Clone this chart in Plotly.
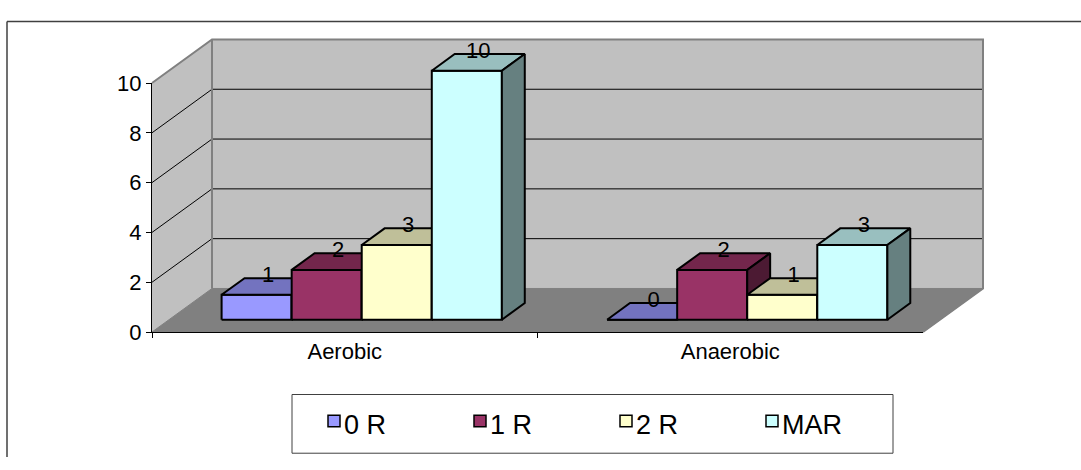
import plotly.graph_objects as go

# ---- data -------------------------------------------------------------
categories = ["Aerobic", "Anaerobic"]
series_names = ["0 R", "1 R", "2 R", "MAR"]
values_0r = [1, 0]
values_1r = [2, 2]
values_2r = [3, 1]
values_mar = [10, 3]
y_ticks = [0, 2, 4, 6, 8, 10]

series_values = [values_0r, values_1r, values_2r, values_mar]
front_colors = ["#9999FF", "#993366", "#FFFFCC", "#CCFFFF"]

# ---- figure geometry (pixels) ------------------------------------------
W, H = 1081, 470
AX_LEFT, AX_RIGHT = 152, 923      # front category axis, px
AX_ZERO, AX_TOP = 338, 75         # value 0 / value 10 on the front plane, px
Y_MAX = 10
PX_PER_CAT = (AX_RIGHT - AX_LEFT) / len(categories)
PX_PER_VAL = (AX_ZERO - AX_TOP) / Y_MAX

# oblique depth of the floor (full depth), px
DEPTH_PX_X, DEPTH_PX_Y = 60, 46
DEPTH_X = DEPTH_PX_X / PX_PER_CAT
DEPTH_Y = DEPTH_PX_Y / PX_PER_VAL

# bars sit between these depth fractions
Z_FRONT, Z_BACK = 0.283, 0.665
GROUP_WIDTH = 0.727               # fraction of a category slot
BAR_W = GROUP_WIDTH / len(series_names)

X_RANGE = [-0.5 - AX_LEFT / PX_PER_CAT, -0.5 + (W - AX_LEFT) / PX_PER_CAT]
Y_RANGE = [-(H - AX_ZERO) / PX_PER_VAL, AX_ZERO / PX_PER_VAL]

U_MIN, U_MAX = -0.5, len(categories) - 0.5

FONT = "Liberation Sans, Arial, sans-serif"


def proj(u, v, z):
    """Oblique projection of (category, value, depth) into the plot plane."""
    return u + z * DEPTH_X, v + z * DEPTH_Y


def shade(hex_color, f):
    h = hex_color.lstrip("#")
    r, g, b = (int(h[i:i + 2], 16) for i in (0, 2, 4))
    return "#{:02X}{:02X}{:02X}".format(round(r * f), round(g * f), round(b * f))


fig = go.Figure()


def polygon(pts, fill, line_color=None, line_width=1.0):
    xs, ys = zip(*[proj(*p) for p in pts])
    xs = list(xs) + [xs[0]]
    ys = list(ys) + [ys[0]]
    fig.add_trace(go.Scatter(
        x=xs, y=ys, mode="lines", fill="toself", fillcolor=fill,
        line=dict(color=line_color or fill, width=line_width),
        hoverinfo="skip", showlegend=False))


def polyline(pts, color, width):
    xs, ys = zip(*[proj(*p) for p in pts])
    fig.add_trace(go.Scatter(
        x=list(xs), y=list(ys), mode="lines",
        line=dict(color=color, width=width),
        hoverinfo="skip", showlegend=False))


WALL = "#C0C0C0"
FLOOR = "#808080"
EDGE = "#808080"

# walls and floor
polygon([(U_MIN, 0, 0), (U_MIN, Y_MAX, 0), (U_MIN, Y_MAX, 1), (U_MIN, 0, 1)], WALL)
polygon([(U_MIN, 0, 1), (U_MAX, 0, 1), (U_MAX, Y_MAX, 1), (U_MIN, Y_MAX, 1)], WALL)
polygon([(U_MIN, 0, 0), (U_MAX, 0, 0), (U_MAX, 0, 1), (U_MIN, 0, 1)], FLOOR)

# gridlines on side wall and back wall
for t in y_ticks[1:-1]:
    polyline([(U_MIN, t, 0), (U_MIN, t, 1), (U_MAX, t, 1)], "#000000", 1)

# wall outline
polyline([(U_MIN, Y_MAX, 0), (U_MIN, Y_MAX, 1), (U_MAX, Y_MAX, 1),
          (U_MAX, 0, 1), (U_MAX, 0, 0)], EDGE, 2)
polyline([(U_MIN, 0, 1), (U_MIN, Y_MAX, 1)], EDGE, 2)

# bars, painted left to right so right-hand faces overlap correctly
label_x, label_y, label_t = [], [], []
for ci in range(len(categories)):
    for si, vals in enumerate(series_values):
        v = vals[ci]
        u0 = ci - GROUP_WIDTH / 2 + si * BAR_W
        u1 = u0 + BAR_W
        col = front_colors[si]
        polygon([(u0, 0, Z_FRONT), (u1, 0, Z_FRONT), (u1, v, Z_FRONT), (u0, v, Z_FRONT)],
                col, "#000000", 2)
        polygon([(u0, v, Z_FRONT), (u1, v, Z_FRONT), (u1, v, Z_BACK), (u0, v, Z_BACK)],
                shade(col, 0.75), "#000000", 2)
        polygon([(u1, 0, Z_FRONT), (u1, 0, Z_BACK), (u1, v, Z_BACK), (u1, v, Z_FRONT)],
                shade(col, 0.5), "#000000", 2)
        lx, _ = proj((u0 + u1) / 2, v, (Z_FRONT + Z_BACK) / 2)
        _, ly = proj(0, v, Z_BACK)
        label_x.append(lx)
        label_y.append(ly + 2 / PX_PER_VAL)
        label_t.append(str(v))

fig.add_trace(go.Scatter(
    x=label_x, y=label_y, text=label_t, mode="text", textposition="middle center",
    textfont=dict(family=FONT, size=22, color="#000000"),
    hoverinfo="skip", showlegend=False))

# carrier for the visible category / value axes
fig.add_trace(go.Scatter(
    x=categories, y=[0] * len(categories), xaxis="x2", yaxis="y2",
    mode="markers", marker=dict(opacity=0), hoverinfo="skip", showlegend=False))

# legend: frame, swatches and names
LEG_X0, LEG_STEP, LEG_SW = 328, 146, 12
LEG_SW_TOP, LEG_TEXT_Y = 426, 436
shapes = [
    dict(type="rect", xref="paper", yref="paper",
         x0=292 / W, x1=893 / W, y0=1 - 466 / H, y1=1 - 404 / H,
         line=dict(color="#404040", width=1)),
    dict(type="line", xref="paper", yref="paper",
         x0=7 / W, x1=1, y0=1 - 10 / H, y1=1 - 10 / H,
         line=dict(color="#404040", width=1.5)),
    dict(type="line", xref="paper", yref="paper",
         x0=7 / W, x1=7 / W, y0=0, y1=1 - 10 / H,
         line=dict(color="#404040", width=1.5)),
]
annotations = []
for i, (name, col) in enumerate(zip(series_names, front_colors)):
    sx = LEG_X0 + i * LEG_STEP
    shapes.append(dict(
        type="rect", xref="paper", yref="paper",
        x0=sx / W, x1=(sx + LEG_SW) / W,
        y0=1 - (LEG_SW_TOP + LEG_SW) / H, y1=1 - LEG_SW_TOP / H,
        fillcolor=col, line=dict(color="#000000", width=1.5)))
    annotations.append(dict(
        xref="paper", yref="paper", x=(sx + LEG_SW + 2) / W, y=1 - LEG_TEXT_Y / H,
        xanchor="left", yanchor="middle", text=name, showarrow=False,
        font=dict(family=FONT, size=27, color="#000000")))

fig.update_layout(
    width=W, height=H, autosize=False,
    margin=dict(l=0, r=0, t=0, b=0, pad=0),
    paper_bgcolor="#FFFFFF", plot_bgcolor="rgba(0,0,0,0)",
    font=dict(family=FONT, color="#000000"),
    showlegend=False,
    xaxis=dict(range=X_RANGE, domain=[0, 1], visible=False, fixedrange=True),
    yaxis=dict(range=Y_RANGE, domain=[0, 1], visible=False, fixedrange=True),
    xaxis2=dict(
        domain=[AX_LEFT / W, AX_RIGHT / W], anchor="y2", type="category",
        categoryorder="array", categoryarray=categories,
        range=[-0.5, len(categories) - 0.5], tickson="boundaries",
        ticks="outside", ticklen=5, tickcolor="#000000", tickwidth=1,
        showline=True, linecolor="#000000", linewidth=1, showgrid=False,
        tickfont=dict(size=22, family=FONT), fixedrange=True),
    yaxis2=dict(
        domain=[(H - AX_ZERO) / H, (H - AX_TOP) / H], anchor="x2",
        range=[0, Y_MAX], tickvals=y_ticks,
        ticks="outside", ticklen=5, tickcolor="#000000", tickwidth=1,
        showline=True, linecolor="#000000", linewidth=1, showgrid=False,
        zeroline=False, tickfont=dict(size=22, family=FONT), fixedrange=True),
    shapes=shapes,
    annotations=annotations,
)

fig.write_html("out.html")
